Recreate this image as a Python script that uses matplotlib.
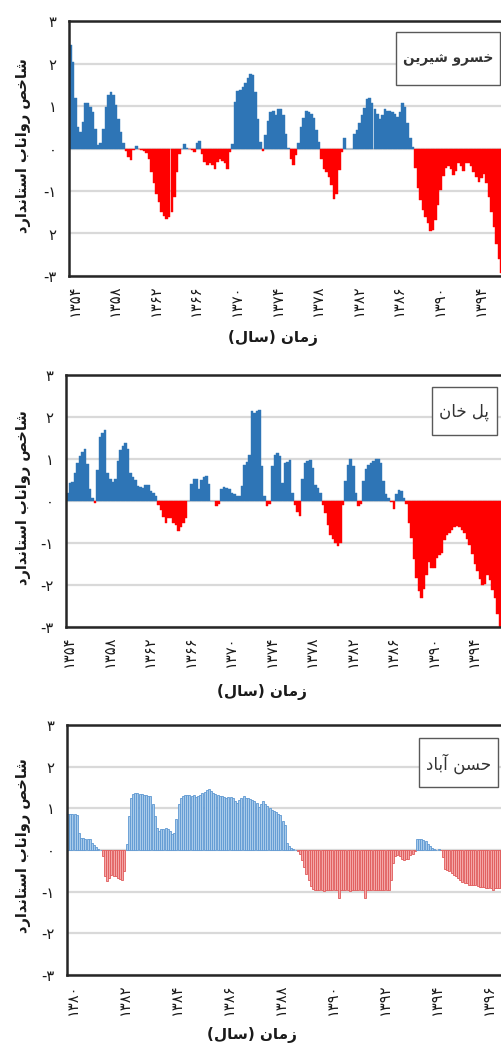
import matplotlib
matplotlib.use("Agg")
import matplotlib.pyplot as plt
from matplotlib.patches import Rectangle

plt.rcParams["font.family"] = ["DejaVu Sans"]

# ---------------------------------------------------------------- data
# Standardized runoff index, quarterly steps (years, Iranian calendar)
khosro_start, khosro_step = 1353.5, 0.25
khosro_sri = [
    2.43, 2.04, 1.18, 0.50, 0.38, 0.63, 1.08, 1.08, 0.98, 0.86,
    0.47, 0.09, 0.14, 0.47, 0.98, 1.25, 1.32, 1.25, 1.03, 0.70,
    0.39, 0.12, -0.06, -0.20, -0.27, -0.04, 0.06, -0.02, -0.03, -0.05,
    -0.10, -0.24, -0.55, -0.82, -1.06, -1.25, -1.49, -1.58, -1.65, -1.61,
    -1.49, -1.14, -0.55, -0.12, 0.00, 0.11, 0.02, -0.02, -0.04, -0.08,
    0.14, 0.17, -0.12, -0.31, -0.38, -0.35, -0.39, -0.49, -0.31, -0.24,
    -0.30, -0.35, -0.49, -0.08, 0.10, 1.10, 1.35, 1.37, 1.45, 1.55,
    1.65, 1.76, 1.73, 1.33, 0.70, 0.16, -0.06, 0.31, 0.64, 0.86,
    0.89, 0.78, 0.92, 0.92, 0.78, 0.35, 0.02, -0.24, -0.39, -0.16,
    0.12, 0.51, 0.72, 0.89, 0.86, 0.81, 0.71, 0.43, 0.16, -0.24,
    -0.49, -0.55, -0.67, -0.85, -1.18, -1.06, -0.51, -0.08, 0.24, 0.00,
    0.00, 0.00, 0.35, 0.43, 0.59, 0.80, 0.96, 1.16, 1.20, 1.06,
    0.93, 0.82, 0.69, 0.80, 0.93, 0.89, 0.89, 0.86, 0.82, 0.75,
    0.86, 1.06, 0.98, 0.59, 0.24, 0.03, -0.47, -0.94, -1.22, -1.45,
    -1.62, -1.76, -1.95, -1.92, -1.69, -1.33, -0.98, -0.64, -0.47, -0.41,
    -0.49, -0.63, -0.52, -0.33, -0.41, -0.53, -0.35, -0.35, -0.42, -0.55,
    -0.67, -0.78, -0.69, -0.60, -0.82, -1.14, -1.49, -1.84, -2.24, -2.59,
    -2.94,
]

polkhan_start, polkhan_step = 1353.75, 0.25
polkhan_sri = [
    0.20, 0.44, 0.45, 0.66, 0.91, 1.07, 1.17, 1.23, 0.87, 0.29,
    0.06, -0.05, 0.75, 1.53, 1.63, 1.69, 0.67, 0.52, 0.45, 0.52,
    0.95, 1.21, 1.31, 1.39, 1.23, 0.66, 0.58, 0.50, 0.36, 0.33,
    0.31, 0.37, 0.39, 0.24, 0.20, 0.12, -0.10, -0.21, -0.37, -0.53,
    -0.40, -0.41, -0.52, -0.58, -0.72, -0.61, -0.53, -0.40, 0.00, 0.40,
    0.53, 0.52, 0.29, 0.50, 0.56, 0.60, 0.40, 0.00, 0.00, -0.12,
    -0.08, 0.28, 0.33, 0.32, 0.28, 0.20, 0.17, 0.13, 0.12, 0.36,
    0.86, 0.92, 1.09, 2.14, 2.10, 2.15, 2.17, 0.83, 0.12, -0.12,
    -0.08, 0.83, 1.10, 1.15, 1.07, 0.44, 0.90, 0.94, 0.98, 0.20,
    -0.10, -0.26, -0.36, 0.52, 0.91, 0.95, 0.98, 0.79, 0.37, 0.32,
    0.20, -0.10, -0.28, -0.56, -0.82, -0.91, -1.01, -1.07, -0.99, -0.10,
    0.48, 0.85, 1.01, 0.83, 0.20, -0.13, -0.08, 0.48, 0.77, 0.85,
    0.90, 0.96, 0.99, 1.01, 0.91, 0.48, 0.16, 0.06, -0.02, -0.20,
    0.16, 0.26, 0.24, 0.08, -0.08, -0.52, -0.87, -1.39, -1.83, -2.14,
    -2.30, -2.10, -1.75, -1.45, -1.59, -1.59, -1.35, -1.28, -1.23, -0.93,
    -0.82, -0.75, -0.70, -0.63, -0.60, -0.63, -0.69, -0.75, -0.91, -1.05,
    -1.27, -1.51, -1.67, -1.85, -2.01, -1.97, -1.75, -1.87, -2.12, -2.30,
    -2.70, -3.00,
]

# Monthly steps
hasan_start, hasan_step = 1379.8, 1 / 12
hasan_sri = [
    0.86, 0.86, 0.86, 0.86, 0.84, 0.42, 0.30, 0.28, 0.27, 0.27,
    0.26, 0.18, 0.11, 0.07, 0.03, 0.01, -0.15, -0.63, -0.75, -0.66,
    -0.61, -0.63, -0.63, -0.66, -0.69, -0.71, -0.51, 0.14, 0.82, 1.26,
    1.34, 1.37, 1.37, 1.35, 1.34, 1.33, 1.32, 1.30, 1.30, 1.10,
    0.82, 0.54, 0.46, 0.51, 0.51, 0.53, 0.50, 0.45, 0.38, 0.42,
    0.74, 1.10, 1.24, 1.30, 1.32, 1.33, 1.32, 1.29, 1.32, 1.27,
    1.30, 1.33, 1.37, 1.40, 1.45, 1.46, 1.42, 1.37, 1.34, 1.32,
    1.29, 1.30, 1.28, 1.26, 1.28, 1.28, 1.24, 1.17, 1.12, 1.19,
    1.24, 1.29, 1.26, 1.24, 1.22, 1.20, 1.17, 1.12, 1.04, 1.10,
    1.18, 1.10, 1.05, 1.01, 0.96, 0.94, 0.91, 0.87, 0.84, 0.70,
    0.60, 0.18, 0.10, 0.06, 0.02, 0.01, -0.02, -0.10, -0.24, -0.40,
    -0.57, -0.72, -0.87, -0.94, -0.96, -0.96, -0.95, -0.96, -0.99, -0.96,
    -0.96, -0.96, -0.95, -0.96, -0.96, -1.15, -0.96, -0.96, -0.96, -0.95,
    -0.99, -0.96, -0.96, -0.96, -0.96, -0.96, -0.96, -1.15, -0.96, -0.96,
    -0.96, -0.96, -0.95, -0.96, -0.95, -0.95, -0.95, -0.95, -0.96, -0.71,
    -0.32, -0.14, -0.11, -0.14, -0.22, -0.24, -0.21, -0.21, -0.13, -0.09,
    -0.03, 0.26, 0.27, 0.27, 0.24, 0.21, 0.15, 0.10, 0.06, 0.02,
    0.01, 0.02, -0.01, -0.16, -0.45, -0.47, -0.50, -0.55, -0.59, -0.63,
    -0.67, -0.71, -0.76, -0.79, -0.80, -0.83, -0.84, -0.85, -0.85, -0.87,
    -0.88, -0.88, -0.88, -0.91, -0.91, -0.92, -0.95, -0.91, -0.91, -0.91,
    -0.91,
]

station_names = ["خسرو شیرین", "پل خان", "حسن آباد"]
ylabel_text = "شاخص رواناب استاندارد"
xlabel_text = "زمان (سال)"
khosro_ticks = list(range(1354, 1398, 4))
polkhan_ticks = list(range(1354, 1398, 4))
hasan_ticks = list(range(1380, 1398, 2))
y_ticks = [-3, -2, -1, 0, 1, 2, 3]

# ---------------------------------------------------------------- text helpers
FA_DIGITS = str.maketrans("0123456789", "۰۱۲۳۴۵۶۷۸۹")


def fa(value):
    return str(value).translate(FA_DIGITS)


# (isolated, final, initial, medial) presentation forms
FORMS = {
    "ا": ("\uFE8D", "\uFE8E", None, None),
    "آ": ("\uFE81", "\uFE82", None, None),
    "ب": ("\uFE8F", "\uFE90", "\uFE91", "\uFE92"),
    "پ": ("\uFB56", "\uFB57", "\uFB58", "\uFB59"),
    "ت": ("\uFE95", "\uFE96", "\uFE97", "\uFE98"),
    "ح": ("\uFEA1", "\uFEA2", "\uFEA3", "\uFEA4"),
    "خ": ("\uFEA5", "\uFEA6", "\uFEA7", "\uFEA8"),
    "د": ("\uFEA9", "\uFEAA", None, None),
    "ر": ("\uFEAD", "\uFEAE", None, None),
    "ز": ("\uFEAF", "\uFEB0", None, None),
    "س": ("\uFEB1", "\uFEB2", "\uFEB3", "\uFEB4"),
    "ش": ("\uFEB5", "\uFEB6", "\uFEB7", "\uFEB8"),
    "ص": ("\uFEB9", "\uFEBA", "\uFEBB", "\uFEBC"),
    "ل": ("\uFEDD", "\uFEDE", "\uFEDF", "\uFEE0"),
    "م": ("\uFEE1", "\uFEE2", "\uFEE3", "\uFEE4"),
    "ن": ("\uFEE5", "\uFEE6", "\uFEE7", "\uFEE8"),
    "و": ("\uFEED", "\uFEEE", None, None),
    "ی": ("\uFBFC", "\uFBFD", "\uFBFE", "\uFBFF"),
}
MIRROR = {"(": ")", ")": "("}


def rtl(text):
    """Join Persian letters into their contextual forms and lay them out right-to-left."""
    out = []
    n = len(text)
    for k, ch in enumerate(text):
        if ch not in FORMS:
            out.append(MIRROR.get(ch, ch))
            continue
        prev_ch = text[k - 1] if k > 0 else None
        next_ch = text[k + 1] if k + 1 < n else None
        join_prev = prev_ch in FORMS and FORMS[prev_ch][2] is not None
        join_next = next_ch in FORMS and FORMS[ch][2] is not None
        iso, fin, ini, med = FORMS[ch]
        if join_prev and join_next:
            out.append(med)
        elif join_prev:
            out.append(fin)
        elif join_next:
            out.append(ini)
        else:
            out.append(iso)
    return "".join(reversed(out))


# ---------------------------------------------------------------- figure
W, H, DPI = 502, 1047, 100
fig = plt.figure(figsize=(W / DPI, H / DPI), dpi=DPI)
fig.patch.set_facecolor("white")

BLUE, RED = "#2E75B6", "#FF0000"
GRID = "#D9D9D9"
SPINE = "#262626"


def fx(px):
    return px / W


def fy(py):
    return 1 - py / H


def make_axes(left, top, bottom, x0, x1, px_per_year):
    width = (x1 - x0) * px_per_year
    ax = fig.add_axes([fx(left), fy(bottom), width / W, (bottom - top) / H])
    ax.set_xlim(x0, x1)
    ax.set_ylim(-3, 3)
    ax.set_axisbelow(True)
    ax.yaxis.grid(True, color=GRID, linewidth=1.6)
    ax.xaxis.grid(False)
    for side in ("left", "top", "bottom", "right"):
        ax.spines[side].set_color(SPINE)
        ax.spines[side].set_linewidth(1.8)
    ax.tick_params(axis="both", length=0, labelsize=10, colors="#1a1a1a")
    ax.tick_params(axis="y", pad=9)
    ax.tick_params(axis="x", pad=6)
    return ax


def draw_station(ax, start, step, values, ticks, ylabels, solid=True):
    xs = [start + step * (i + 0.5) for i in range(len(values))]
    if solid:
        colors = [BLUE if v >= 0 else RED for v in values]
        ax.bar(xs, values, width=step, color=colors, edgecolor=colors,
               linewidth=0.3, zorder=2)
    else:
        face = ["#A9CBEA" if v >= 0 else "#F4A7A7" for v in values]
        edge = ["#5E98D2" if v >= 0 else "#E05A5A" for v in values]
        ax.bar(xs, values, width=step * 0.85, color=face, edgecolor=edge,
               linewidth=0.6, zorder=2)
    ax.set_xticks(ticks)
    ax.set_xticklabels([fa(t) for t in ticks], rotation=90, fontsize=10.5)
    ax.set_yticks(y_ticks)
    ax.set_yticklabels(ylabels, fontsize=10.5)


def title_box(x1, y1, x2, y2, text, weight="normal", size=12):
    rect = Rectangle((fx(x1), fy(y2)), (x2 - x1) / W, (y2 - y1) / H,
                     transform=fig.transFigure, facecolor="white",
                     edgecolor="#595959", linewidth=1.0, zorder=5)
    fig.add_artist(rect)
    fig.text(fx((x1 + x2) / 2), fy((y1 + y2) / 2 + 1), rtl(text),
             ha="center", va="center", fontsize=size, fontweight=weight,
             color="#333333", zorder=6)


def axis_titles(ylabel_y, xlabel_x, xlabel_y):
    fig.text(fx(24), fy(ylabel_y), rtl(ylabel_text), rotation=90,
             ha="center", va="center", fontsize=10.5, fontweight="bold",
             color="#1a1a1a")
    fig.text(fx(xlabel_x), fy(xlabel_y), rtl(xlabel_text),
             ha="center", va="center", fontsize=11, fontweight="bold",
             color="#1a1a1a")


ylab_top = ["-" + fa(3), fa(2), "-" + fa(1), fa(0), fa(1), fa(2), fa(3)]
ylab_std = ["-" + fa(3), "-" + fa(2), "-" + fa(1), fa(0), fa(1), fa(2), fa(3)]

# Khosro Shirin
ax1 = make_axes(69, 21, 276, khosro_start, 1399.0, 10.15)
draw_station(ax1, khosro_start, khosro_step, khosro_sri, khosro_ticks, ylab_top)
title_box(396, 32, 500, 85, station_names[0], weight="bold", size=9.8)
axis_titles(146, 273, 338)

# Pol Khan
ax2 = make_axes(66, 375, 627, polkhan_start, 1399.0, 10.125)
draw_station(ax2, polkhan_start, polkhan_step, polkhan_sri, polkhan_ticks, ylab_std)
title_box(432, 387, 497, 435, station_names[1], size=12)
axis_titles(498, 262, 692)

# Hasan Abad
ax3 = make_axes(67, 725, 975, hasan_start, 1398.0, 26.0)
draw_station(ax3, hasan_start, hasan_step, hasan_sri, hasan_ticks, ylab_std, solid=False)
title_box(419, 738, 498, 787, station_names[2], size=12)
axis_titles(846, 252, 1035)

fig.savefig("out.png", dpi=DPI, facecolor="white")
